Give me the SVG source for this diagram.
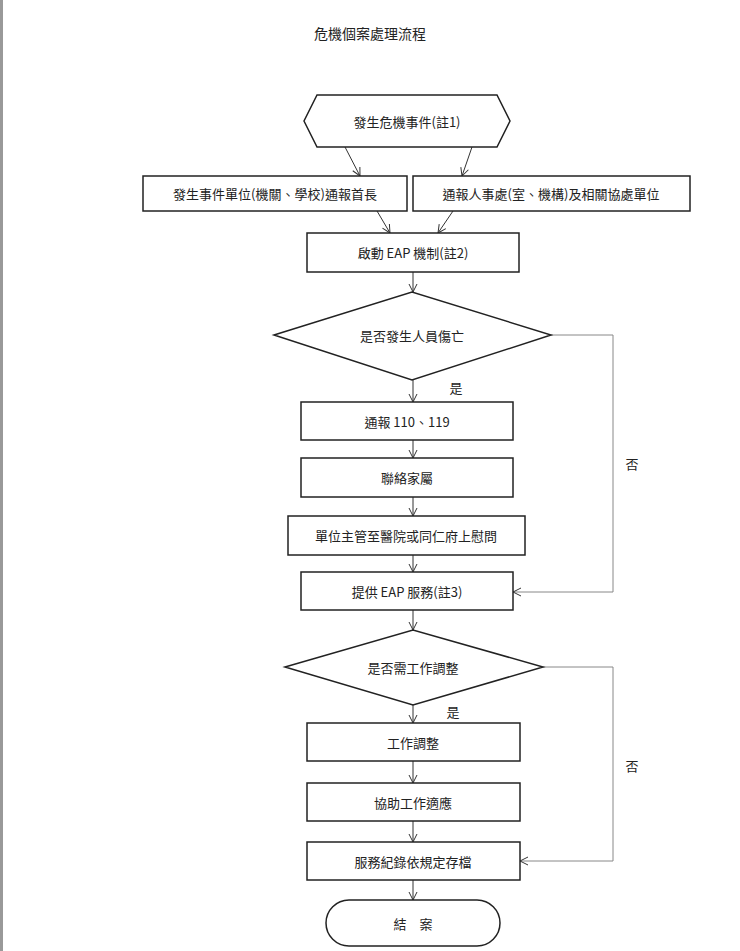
<svg xmlns="http://www.w3.org/2000/svg" width="740" height="951" viewBox="0 0 740 951">
<style>
.n{fill:#fff;stroke:#222;stroke-width:1.5}
.t{font-family:"Noto Sans CJK TC","Liberation Serif",serif;font-size:13px;fill:#222;text-anchor:middle;dominant-baseline:central}
.c{fill:none;stroke:#333;stroke-width:1}
.g{fill:none;stroke:#888;stroke-width:1}
</style>
<defs><marker id="a" markerWidth="10" markerHeight="10" refX="9" refY="5" orient="auto" markerUnits="userSpaceOnUse"><path d="M1,1 L9,5 L1,9" fill="none" stroke="#333" stroke-width="1"/></marker></defs>
<rect width="740" height="951" fill="#fff"/>
<rect x="0" y="0" width="3" height="951" fill="#999"/>
<text class="t" x="370" y="33" style="font-size:14px">危機個案處理流程</text>
<g id="connectors">
<line class="c" x1="345" y1="147" x2="360" y2="176" marker-end="url(#a)"/>
<line class="c" x1="472" y1="147" x2="462" y2="176" marker-end="url(#a)"/>
<line class="c" x1="377" y1="211" x2="390" y2="233" marker-end="url(#a)"/>
<line class="c" x1="453" y1="211" x2="438" y2="233" marker-end="url(#a)"/>
<line class="c" x1="413" y1="272" x2="413" y2="292" marker-end="url(#a)"/>
<line class="c" x1="413" y1="380" x2="413" y2="402" marker-end="url(#a)"/>
<line class="c" x1="413" y1="440" x2="413" y2="458" marker-end="url(#a)"/>
<line class="c" x1="413" y1="497" x2="413" y2="516" marker-end="url(#a)"/>
<line class="c" x1="413" y1="555" x2="413" y2="572" marker-end="url(#a)"/>
<polyline class="g" points="551,335 613,335 613,592 513,592" marker-end="url(#a)"/>
<line class="c" x1="413" y1="610" x2="413" y2="630" marker-end="url(#a)"/>
<line class="c" x1="413" y1="705" x2="413" y2="723" marker-end="url(#a)"/>
<line class="c" x1="413" y1="761" x2="413" y2="783" marker-end="url(#a)"/>
<line class="c" x1="413" y1="821" x2="413" y2="842" marker-end="url(#a)"/>
<polyline class="g" points="543,667 613,667 613,861 520,861" marker-end="url(#a)"/>
<line class="c" x1="413" y1="880" x2="413" y2="900" marker-end="url(#a)"/>
<text class="t" x="456" y="387">是</text>
<text class="t" x="632" y="463">否</text>
<text class="t" x="453" y="711">是</text>
<text class="t" x="632" y="765">否</text>
</g>
<g id="start"><polygon class="n" points="317,95 497,95 510,121 497,147 317,147 304,121"/><text class="t" x="407" y="121">發生危機事件(註1)</text></g>
<g id="unit"><rect class="n" x="143" y="176" width="264" height="35"/><text class="t" x="275" y="193">發生事件單位(機關、學校)通報首長</text></g>
<g id="hr"><rect class="n" x="413" y="176" width="277" height="35"/><text class="t" x="551" y="193">通報人事處(室、機構)及相關協處單位</text></g>
<g id="eap"><rect class="n" x="307" y="233" width="212" height="39"/><text class="t" x="413" y="252">啟動 EAP 機制(註2)</text></g>
<g id="d1"><polygon class="n" points="274,335 412,292 551,335 412,380"/><text class="t" x="412" y="335">是否發生人員傷亡</text></g>
<g id="call"><rect class="n" x="301" y="402" width="212" height="38"/><text class="t" x="407" y="421">通報 110、119</text></g>
<g id="family"><rect class="n" x="301" y="458" width="212" height="39"/><text class="t" x="407" y="477">聯絡家屬</text></g>
<g id="visit"><rect class="n" x="288" y="516" width="237" height="39"/><text class="t" x="406" y="535">單位主管至醫院或同仁府上慰問</text></g>
<g id="service"><rect class="n" x="301" y="572" width="212" height="38"/><text class="t" x="407" y="591">提供 EAP 服務(註3)</text></g>
<g id="d2"><polygon class="n" points="285,667 413,630 543,667 413,705"/><text class="t" x="413" y="667">是否需工作調整</text></g>
<g id="adjust"><rect class="n" x="307" y="723" width="213" height="38"/><text class="t" x="413" y="742">工作調整</text></g>
<g id="assist"><rect class="n" x="307" y="783" width="213" height="38"/><text class="t" x="413" y="802">協助工作適應</text></g>
<g id="record"><rect class="n" x="307" y="842" width="213" height="38"/><text class="t" x="413" y="861">服務紀錄依規定存檔</text></g>
<g id="end"><rect class="n" x="326" y="900" width="174" height="46" rx="23"/><text class="t" x="413" y="923">結　案</text></g>
</svg>
